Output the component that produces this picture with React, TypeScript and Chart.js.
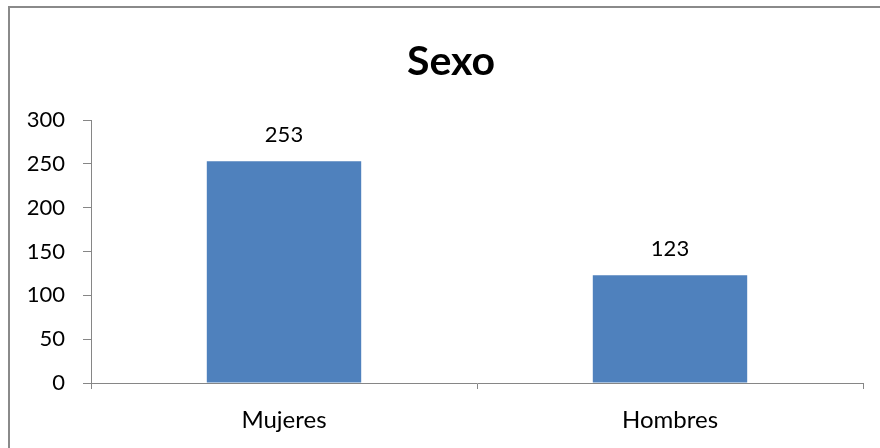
import React, { useEffect, useRef } from "react";
import { Chart, registerables } from "chart.js";

Chart.register(...registerables);

const categories = ["Mujeres", "Hombres"];
const values = [253, 123];
const yTicks = [0, 50, 100, 150, 200, 250, 300];
const titleText = "Sexo";

const FONT = "Lato, 'Liberation Sans', sans-serif";
const GRAY = "#868686";

const decorPlugin = {
  id: "decor",
  afterDraw(chart: any) {
    const ctx = chart.ctx;
    ctx.save();
    // outer frame
    ctx.strokeStyle = "#8a8a8a";
    ctx.lineWidth = 2;
    ctx.beginPath();
    ctx.moveTo(9, 460);
    ctx.lineTo(9, 7);
    ctx.lineTo(900, 7);
    ctx.stroke();
    // title
    ctx.fillStyle = "#000";
    ctx.font = `bold 41px ${FONT}`;
    ctx.textAlign = "center";
    ctx.textBaseline = "alphabetic";
    ctx.fillText(titleText, 451, 75);
    // data labels
    const meta = chart.getDatasetMeta(0);
    ctx.font = `22px ${FONT}`;
    meta.data.forEach((bar: any, i: number) => {
      ctx.fillText(String(values[i]), bar.x, bar.y - 19);
    });
    ctx.restore();
  },
};

export default function App() {
  const ref = useRef<HTMLCanvasElement | null>(null);
  useEffect(() => {
    if (!ref.current) return;
    const chart = new Chart(ref.current, {
      type: "bar",
      data: {
        labels: categories,
        datasets: [
          {
            data: values,
            backgroundColor: "#4F81BD",
            borderWidth: 0,
            barPercentage: 0.4,
            categoryPercentage: 1,
          },
        ],
      },
      options: {
        animation: false,
        responsive: false,
        maintainAspectRatio: false,
        layout: { padding: { top: 120, right: 17, bottom: 0, left: 0 } },
        plugins: {
          legend: { display: false },
          title: { display: false },
          tooltip: { enabled: false },
        },
        scales: {
          x: {
            afterFit: (s: any) => {
              s.height = 65;
            },
            grid: {
              offset: true,
              drawOnChartArea: false,
              drawTicks: true,
              tickLength: 6,
              color: GRAY,
            },
            border: { display: true, color: GRAY, width: 1 },
            ticks: {
              color: "#000",
              font: { family: FONT, size: 24 },
              padding: 17,
            },
          },
          y: {
            min: 0,
            max: 300,
            afterFit: (s: any) => {
              s.width = 91;
            },
            afterBuildTicks: (s: any) => {
              s.ticks = yTicks.map((v) => ({ value: v }));
            },
            grid: {
              drawOnChartArea: false,
              drawTicks: true,
              tickLength: 8,
              color: GRAY,
            },
            border: { display: true, color: GRAY, width: 1 },
            ticks: {
              color: "#000",
              font: { family: FONT, size: 22 },
              padding: 18,
            },
          },
        },
      },
      plugins: [decorPlugin],
    });
    return () => chart.destroy();
  }, []);
  return (
    <div style={{ position: "fixed", left: 0, top: 0, width: 880, height: 448, background: "#fff" }}>
      <canvas ref={ref} width={880} height={448} style={{ display: "block" }} />
    </div>
  );
}
